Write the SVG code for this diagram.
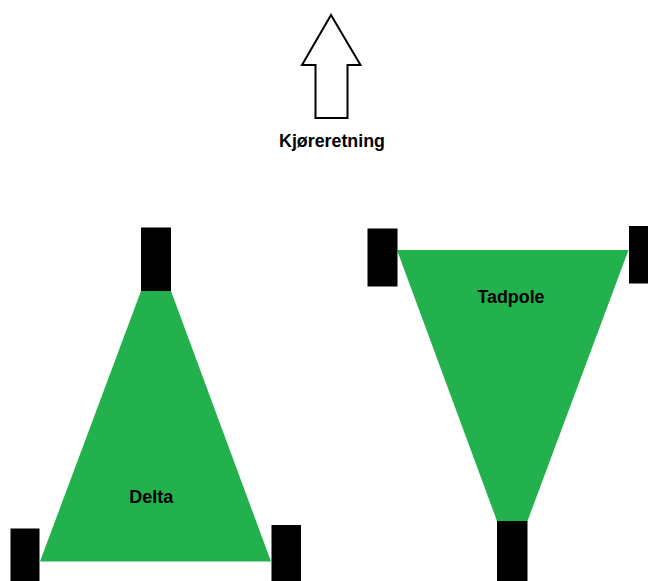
<svg xmlns="http://www.w3.org/2000/svg" width="648" height="581" viewBox="0 0 648 581">
  <style>
    .body { fill: #22B14C; }
    .wheel { fill: #000000; }
    .label { font-family: "Liberation Sans", Arial, sans-serif; font-weight: bold; font-size: 17.5px; fill: #000000; text-anchor: middle; }
    .arrow { fill: #FFFFFF; stroke: #000000; stroke-width: 2; stroke-linejoin: miter; }
  </style>
  <rect width="648" height="581" fill="#FFFFFF"/>

  <!-- direction of travel -->
  <g id="direction">
    <polygon class="arrow" points="331,15 360.5,65 347.5,65 347.5,118 315.5,118 315.5,65 302,65"/>
    <text class="label" x="332" y="147" textLength="106" lengthAdjust="spacingAndGlyphs">Kjøreretning</text>
  </g>

  <!-- delta layout: one wheel in front, two behind -->
  <g id="delta">
    <polygon class="body" points="141,291 171,291 271,561.5 40,561.5"/>
    <rect class="wheel" x="141" y="227.5" width="30" height="63.5"/>
    <rect class="wheel" x="10.5" y="528.5" width="29" height="52.5"/>
    <rect class="wheel" x="271.5" y="525" width="29.5" height="56"/>
    <text class="label" x="151.3" y="502.7" textLength="44" lengthAdjust="spacingAndGlyphs">Delta</text>
  </g>

  <!-- tadpole layout: two wheels in front, one behind -->
  <g id="tadpole">
    <polygon class="body" points="397,250 628.5,250 527.5,521 497,521"/>
    <rect class="wheel" x="367.5" y="228.5" width="30" height="58"/>
    <rect class="wheel" x="629" y="226" width="19" height="57.5"/>
    <rect class="wheel" x="497" y="521" width="30.5" height="60"/>
    <text class="label" x="511" y="302.5" textLength="67" lengthAdjust="spacingAndGlyphs">Tadpole</text>
  </g>
</svg>
